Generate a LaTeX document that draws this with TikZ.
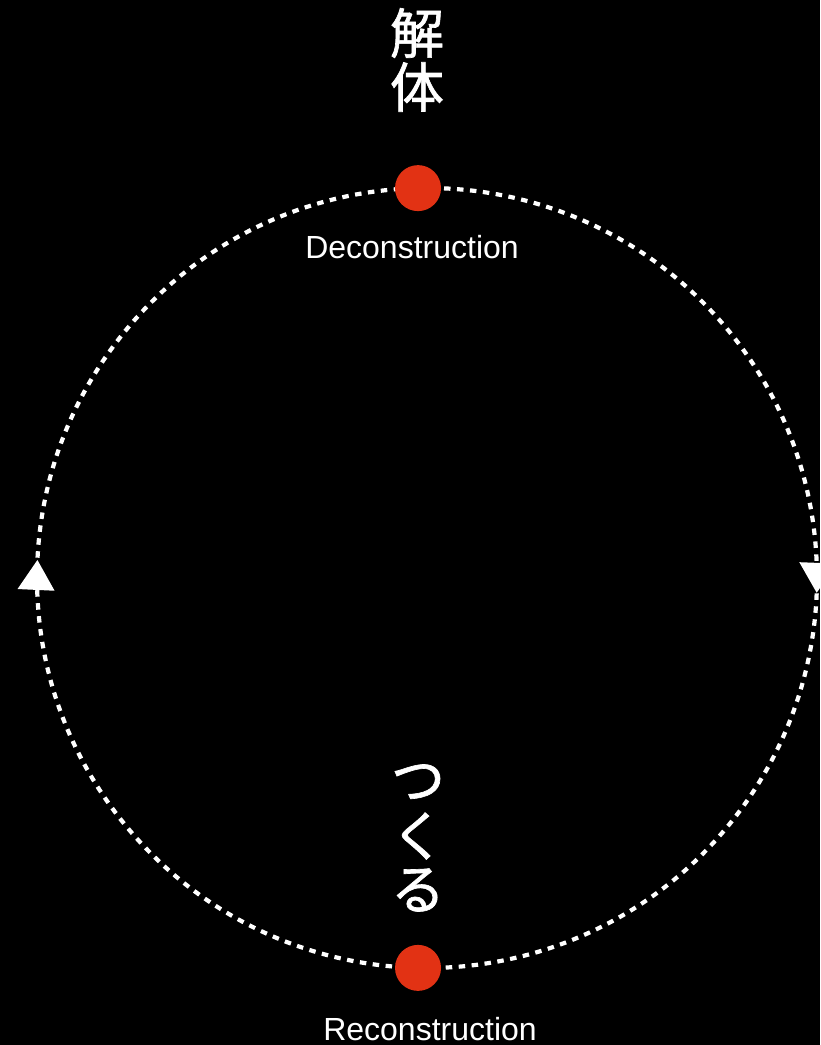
\documentclass[tikz,border=0pt]{standalone}
\usepackage{fontspec}
\setmainfont{Liberation Sans}
\newfontfamily\cjk[FakeBold=1.2]{Noto Sans CJK JP}
\usetikzlibrary{arrows.meta,decorations.markings}
\definecolor{dotred}{RGB}{226,50,20}
\tikzset{
  reddot/.style={circle,fill=dotred,minimum size=46pt,inner sep=0pt},
  dotline/.style={white,line width=4.2pt,dash pattern=on 6.5pt off 6.5pt},
  kanji/.style={text=white,font=\cjk\fontsize{54pt}{54pt}\selectfont,inner sep=0pt,anchor=center},
  label/.style={text=white,font=\fontsize{32pt}{32pt}\selectfont,inner sep=0pt,anchor=base},
  midarrow/.style={postaction={decorate},decoration={markings,
     mark=at position #1 with {\arrow{Triangle[width=36pt,length=30pt]}}}}
}
\begin{document}
\begin{tikzpicture}[x=1pt,y=1pt]
  \fill[black] (0,0) rectangle (820,-1045);
  \useasboundingbox (0,0) rectangle (820,-1045);
  \coordinate (C) at (427,-578);
  \coordinate (topP) at ([shift={(91.32:390)}]C);
  \coordinate (botP) at ([shift={(268.68:390)}]C);
  % arcs
  \draw[dotline,midarrow=0.512] (topP) arc[start angle=91.32,end angle=-91.32,radius=390];
  \draw[dotline,midarrow=0.515] (botP) arc[start angle=268.68,end angle=91.32,radius=390];
  % dots
  \node[reddot] (top) at (topP) {};
  \node[reddot] (bot) at (botP) {};
  % texts
  \node[kanji] (k1) at (417,-33) {解};
  \node[kanji] (k2) at (417,-87) {体};
  \node[kanji] (h1) at (418,-782) {つ};
  \node[kanji] (h2) at (418,-836) {く};
  \node[kanji] (h3) at (418,-890) {る};
  \node[label] (dec) at (412,-258) {Deconstruction};
  \node[label] (rec) at (430,-1040) {Reconstruction};
\end{tikzpicture}
\end{document}
